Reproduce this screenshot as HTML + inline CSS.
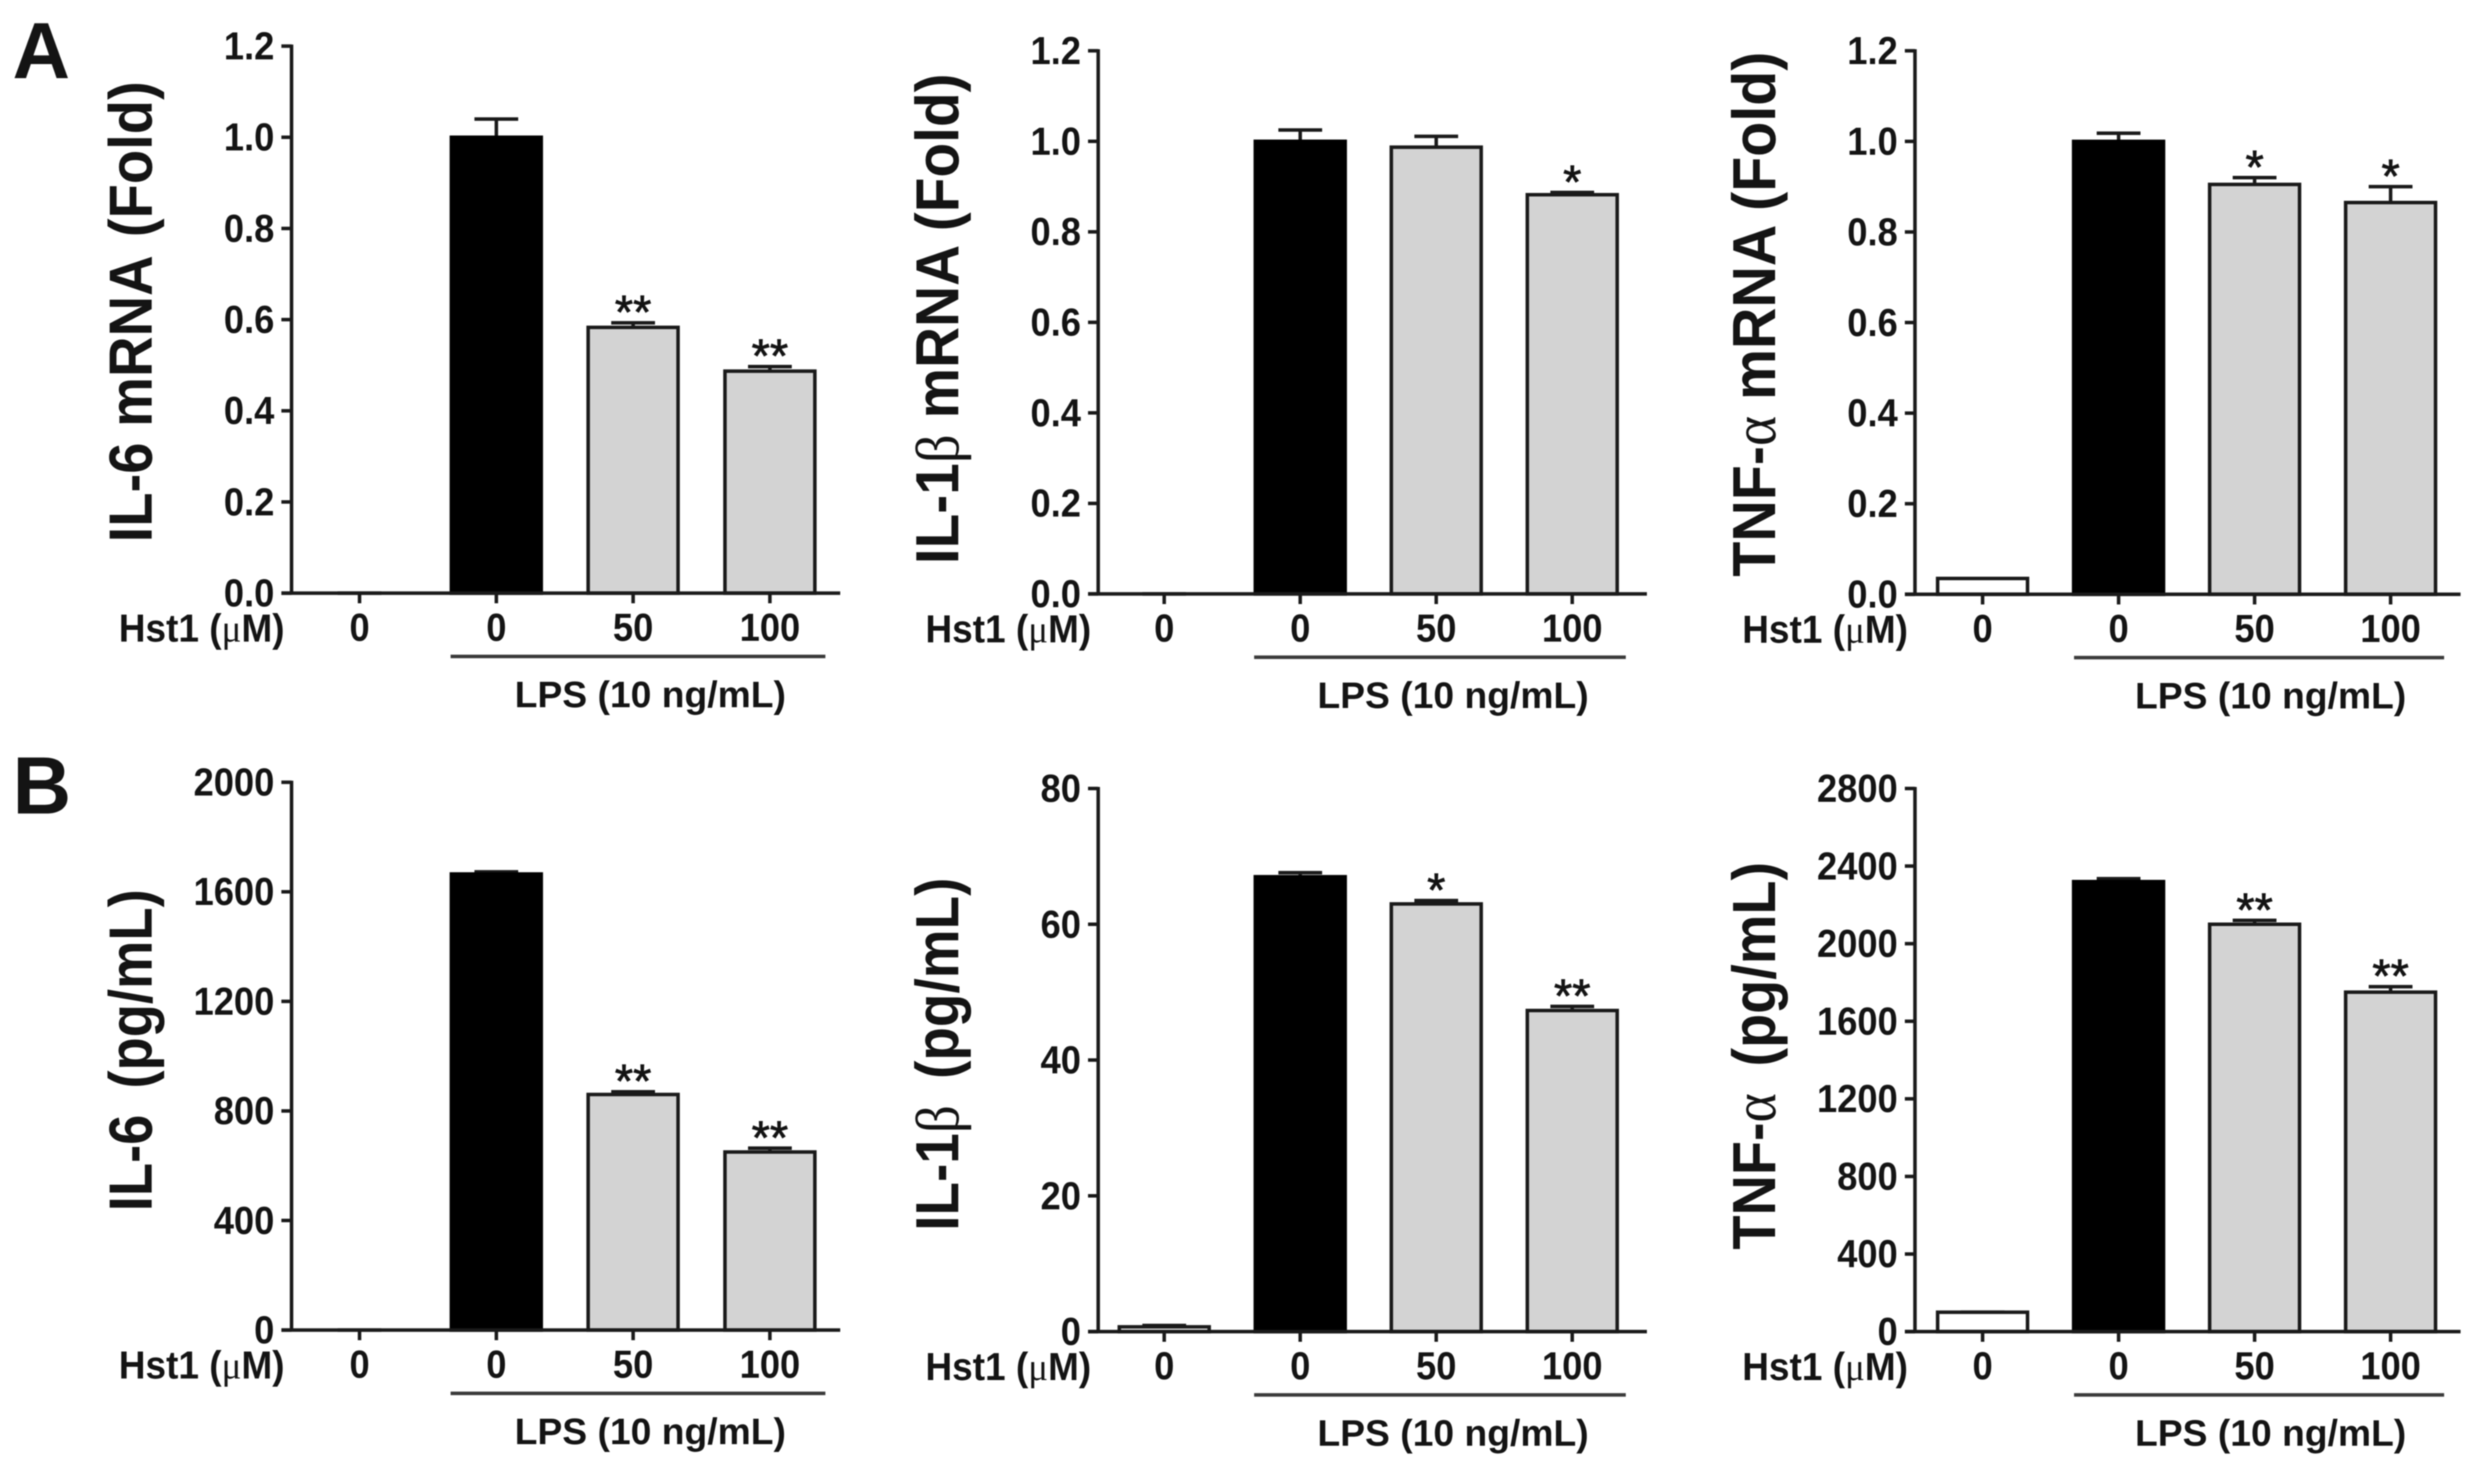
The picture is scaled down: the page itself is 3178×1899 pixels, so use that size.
<!DOCTYPE html>
<html lang="en">
<head>
<meta charset="utf-8">
<title>Hst1 cytokine bar charts</title>
<style>
html,body{margin:0;padding:0;background:#fff;width:3178px;height:1899px;overflow:hidden}
svg{display:block;filter:blur(0.7px)}
text{font-family:"Liberation Sans",sans-serif;fill:#141414}
</style>
</head>
<body>
<svg id="figure" xmlns="http://www.w3.org/2000/svg" width="3178" height="1899" viewBox="0 0 3178 1899">
<rect width="3178" height="1899" fill="#fff"/>
<text x="16" y="100" font-size="102" font-weight="700" fill="#000">A</text>
<text x="16" y="1041" font-size="104" font-weight="700" fill="#000">B</text>
</svg>
<script>
const categories = ['0', '0', '50', '100'];
const il6MrnaValues = [0, 1.0, 0.583, 0.487];
const il6MrnaErrors = [0, 0.04, 0.01, 0.01];
const il6MrnaStars = ['', '', '**', '**'];
const il6MrnaTicks = ['0.0', '0.2', '0.4', '0.6', '0.8', '1.0', '1.2'];
const il1MrnaValues = [0, 1.0, 0.987, 0.882];
const il1MrnaErrors = [0, 0.025, 0.024, 0.005];
const il1MrnaStars = ['', '', '', '*'];
const il1MrnaTicks = ['0.0', '0.2', '0.4', '0.6', '0.8', '1.0', '1.2'];
const tnfMrnaValues = [0.035, 1.0, 0.905, 0.865];
const tnfMrnaErrors = [0, 0.018, 0.015, 0.035];
const tnfMrnaStars = ['', '', '*', '*'];
const tnfMrnaTicks = ['0.0', '0.2', '0.4', '0.6', '0.8', '1.0', '1.2'];
const il6ProteinValues = [0, 1665, 860, 650];
const il6ProteinErrors = [0, 8, 10, 14];
const il6ProteinStars = ['', '', '**', '**'];
const il6ProteinTicks = ['0', '400', '800', '1200', '1600', '2000'];
const il1ProteinValues = [0.7, 67, 63, 47.3];
const il1ProteinErrors = [0.2, 0.6, 0.5, 0.6];
const il1ProteinStars = ['', '', '*', '**'];
const il1ProteinTicks = ['0', '20', '40', '60', '80'];
const tnfProteinValues = [100, 2320, 2100, 1750];
const tnfProteinErrors = [0, 15, 20, 28];
const tnfProteinStars = ['', '', '**', '**'];
const tnfProteinTicks = ['0', '400', '800', '1200', '1600', '2000', '2400', '2800'];

const NS = 'http://www.w3.org/2000/svg';
const svg = document.getElementById('figure');
const barFills = ['#ffffff', '#000000', '#d3d3d3', '#d3d3d3'];
const INK = '#1a1a1a';
const STRETCH = 1.08;
const leftColumn = { left: 373, offset: 87, spacing: 175, axisEnd: 702, bracketStart: 203.5, bracketEnd: 683, lpsX: 459 };
const middleColumn = { left: 1405, offset: 84.5, spacing: 174, axisEnd: 702, bracketStart: 199.5, bracketEnd: 675, lpsX: 454 };
const rightColumn = { left: 2450, offset: 86.5, spacing: 174, axisEnd: 698, bracketStart: 203.5, bracketEnd: 677, lpsX: 455 };

function make(tag, parent, props) {
  const node = document.createElementNS(NS, tag);
  for (const key in props) node.setAttribute(key, props[key]);
  parent.appendChild(node);
  return node;
}
function line(parent, x1, y1, x2, y2, width) {
  return make('line', parent, { x1, y1, x2, y2, stroke: INK, 'stroke-width': width });
}
function label(parent, x, y, anchor, size) {
  return make('text', parent, {
    transform: 'translate(' + x + ' ' + y + ') scale(1 ' + STRETCH + ')',
    'text-anchor': anchor, 'font-size': size, 'font-weight': 700
  });
}
function richText(node, prefix, greek, suffix) {
  node.appendChild(document.createTextNode(prefix));
  if (greek) {
    const g = make('tspan', node, { 'font-family': '"Liberation Serif",serif', 'font-weight': '400' });
    g.textContent = greek;
    node.appendChild(document.createTextNode(suffix));
  }
}

function drawPanel(col, p) {
  const group = make('g', svg, {});
  
  

  const left = col.left;
  const yMax = parseFloat(p.ticks[p.ticks.length - 1]);
  const yScale = v => p.zero - (v / yMax) * (p.zero - p.top);
  const xScale = i => left + col.offset + col.spacing * i;
  const barWidth = 115;

  // y axis + ticks
  const yAxis = line(group, left, p.top - 2, left, p.zero + 2, 4.5);
  
  
  p.ticks.forEach(text => {
    const y = yScale(parseFloat(text));
    const tick = line(group, left - 13, y, left, y, 4.5);
    
    
    const t = label(group, left - 22, y + 17, 'end', 46.5);
    t.textContent = text;
    
    
  });

  // bars, error bars, stars
  p.values.forEach((v, i) => {
    const cx = xScale(i);
    const y = yScale(v);
    const errTop = yScale(v + p.errors[i]);
    const err = make('g', group, {});
    
    
    line(err, cx, y, cx, errTop, 4.5);
    line(err, cx - 28, errTop, cx + 28, errTop, 4.5);
    const bar = make('rect', group, { x: cx - barWidth / 2, y: y, width: barWidth, height: p.zero - y, fill: barFills[i], stroke: i === 1 ? '#000' : INK, 'stroke-width': 4.5 });
    
    
    if (p.stars[i]) {
      const s = make('text', group, { x: cx, y: errTop + 7, 'text-anchor': 'middle', 'font-size': 60, 'font-weight': 400, stroke: '#141414', 'stroke-width': 1 });
      s.textContent = p.stars[i];
      
      
    }
  });

  // x axis + ticks + labels
  const xAxis = line(group, left - 13, p.zero, left + col.axisEnd, p.zero, 4.5);
  
  
  categories.forEach((c, i) => {
    const cx = xScale(i);
    const tick = line(group, cx, p.zero, cx, p.zero + 13, 4.5);
    
    
    const t = label(group, cx, p.zero + 61, 'middle', 46.5);
    t.textContent = c;
    
    
  });

  const hst = label(group, left - 9, p.zero + 62, 'end', 46.5);
  hst.setAttribute('textLength', 212);
  hst.setAttribute('lengthAdjust', 'spacingAndGlyphs');
  richText(hst, 'Hst1 (', 'μ', 'M)');
  
  

  const bracket = make('line', group, { x1: left + col.bracketStart, y1: p.zero + 81, x2: left + col.bracketEnd, y2: p.zero + 81, stroke: '#3a3a3a', 'stroke-width': 4.5 });
  
  

  const lps = make('text', group, { x: left + col.lpsX, y: p.zero + 146, 'text-anchor': 'middle', 'font-size': 47.5, 'font-weight': 700, textLength: 347, lengthAdjust: 'spacingAndGlyphs' });
  lps.textContent = 'LPS (10 ng/mL)';
  
  

  const tx = left - 179;
  const title = make('text', group, { x: tx, y: p.titleY, transform: 'rotate(-90 ' + tx + ' ' + p.titleY + ')', 'text-anchor': 'middle', 'font-size': 78, 'font-weight': 700, textLength: p.titleLength, lengthAdjust: 'spacingAndGlyphs', style: 'white-space:pre' });
  richText(title, p.title[0], p.title[1], p.title[2]);
  
  
}

drawPanel(leftColumn, { id: 'il6-mrna', top: 59, zero: 759, titleY: 399, titleLength: 590, title: ['IL-6 mRNA \u200A(Fold)', '', ''], ticks: il6MrnaTicks, values: il6MrnaValues, errors: il6MrnaErrors, stars: il6MrnaStars });
drawPanel(middleColumn, { id: 'il1b-mrna', top: 65, zero: 760, titleY: 408, titleLength: 628, title: ['IL-1', 'β', ' mRNA (Fold)'], ticks: il1MrnaTicks, values: il1MrnaValues, errors: il1MrnaErrors, stars: il1MrnaStars });
drawPanel(rightColumn, { id: 'tnf-mrna', top: 65, zero: 760.5, titleY: 402, titleLength: 672, title: ['TNF-', 'α', ' mRNA (Fold)'], ticks: tnfMrnaTicks, values: tnfMrnaValues, errors: tnfMrnaErrors, stars: tnfMrnaStars });
drawPanel(leftColumn, { id: 'il6-protein', top: 1001, zero: 1702, titleY: 1344, titleLength: 412, title: ['IL-6 \u2009(pg/mL)', '', ''], ticks: il6ProteinTicks, values: il6ProteinValues, errors: il6ProteinErrors, stars: il6ProteinStars });
drawPanel(middleColumn, { id: 'il1b-protein', top: 1009, zero: 1704, titleY: 1349, titleLength: 452, title: ['IL-1', 'β', ' \u2009(pg/mL)'], ticks: il1ProteinTicks, values: il1ProteinValues, errors: il1ProteinErrors, stars: il1ProteinStars });
drawPanel(rightColumn, { id: 'tnf-protein', top: 1009, zero: 1704, titleY: 1351, titleLength: 496, title: ['TNF-', 'α', ' \u2009(pg/mL)'], ticks: tnfProteinTicks, values: tnfProteinValues, errors: tnfProteinErrors, stars: tnfProteinStars });
</script>
</body>
</html>
